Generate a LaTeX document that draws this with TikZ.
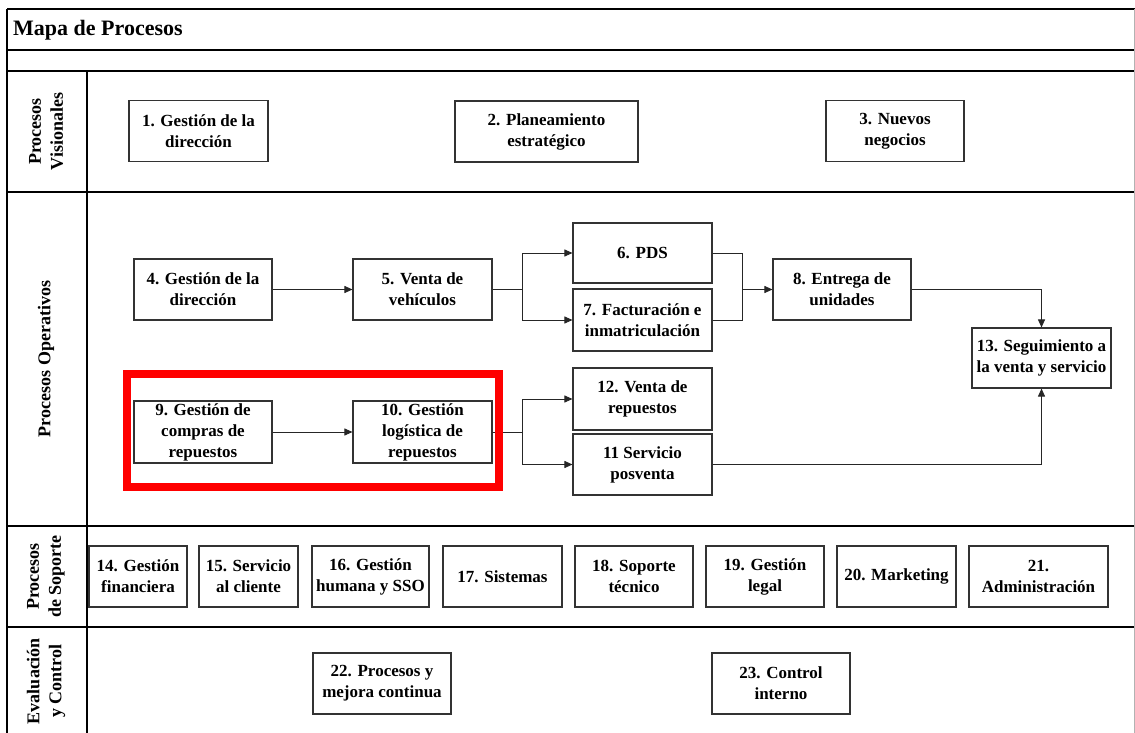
\documentclass[tikz,border=0pt]{standalone}
\usepackage{fontspec}
\setmainfont{Liberation Serif}[BoldFont={Liberation Serif Bold}]
\usetikzlibrary{arrows.meta}
\begin{document}
\begin{tikzpicture}[x=1pt,y=-1pt,
  proc/.style={draw=black!80, line width=1.1pt, fill=white, align=center,
    font=\fontsize{17}{21}\selectfont\bfseries, inner sep=1pt,
    minimum width=139pt, minimum height=61pt},
  lane/.style={line width=1.4pt, draw=black},
  flow/.style={line width=0.9pt, draw=black!85, -{Triangle[length=8pt,width=7pt]}},
  link/.style={line width=0.9pt, draw=black!85},
  lanelabel/.style={rotate=90, align=center, font=\fontsize{18}{22}\selectfont\bfseries},
  highlight/.style={draw=red, line width=8pt}]
\useasboundingbox (0,0) rectangle (1135,733);
\fill[white] (0,0) rectangle (1135,733);

% frame and lanes
\draw[lane] (7,9) -- (1135,9);
\draw[lane] (7,9) -- (7,733);
\foreach \yy in {50,71,192,526,627} \draw[lane] (7,\yy) -- (1134,\yy);
\draw[lane] (87,71) -- (87,733);
\draw[black!30, line width=0.8pt] (1134,9) -- (1134,733);

% title
\node[anchor=base west, font=\fontsize{22}{26}\selectfont\bfseries, inner sep=0pt] (title) at (13,36) {Mapa de Procesos};

% lane labels
\node[lanelabel] (lv) at (46,131.5) {Procesos\\Visionales};
\node[lanelabel] (lo) at (46,359) {Procesos Operativos};
\node[lanelabel] (ls) at (46,576.5) {Procesos\\de Soporte};
\node[lanelabel] (le) at (46,681) {Evaluación\\y Control};

% visional processes
\node[proc] (p1) at (198.5,131) {1. Gestión de la\\dirección};
\node[proc, minimum width=183pt] (p2) at (546.5,131.5) {2. Planeamiento\\estratégico};
\node[proc, minimum width=138pt] (p3) at (895,131) {3. Nuevos\\negocios};

% operational processes
\node[proc, minimum width=138pt] (p4) at (203,289.5) {4. Gestión de la\\dirección};
\node[proc] (p5) at (422.5,289.5) {5. Venta de\\vehículos};
\node[proc, minimum height=60pt] (p6) at (642.5,253) {6. PDS};
\node[proc, minimum height=62pt] (p7) at (642.5,320) {7. Facturación e\\inmatriculación};
\node[proc, minimum width=138pt] (p8) at (842,289.5) {8. Entrega de\\unidades};
\node[proc, minimum height=60pt] (p13) at (1041.5,358) {13. Seguimiento a\\la venta y servicio};
\node[proc, minimum width=138pt, minimum height=62pt] (p9) at (203,432) {9. Gestión de\\compras de\\repuestos};
\node[proc, minimum height=62pt] (p10) at (422.5,432) {10. Gestión\\logística de\\repuestos};
\node[proc, minimum height=62pt] (p12) at (642.5,399) {12. Venta de\\repuestos};
\node[proc] (p11) at (642.5,464.5) {11 Servicio\\posventa};

% support processes
\node[proc, minimum width=98pt] (p14) at (138,576.5) {14. Gestión\\financiera};
\node[proc, minimum width=99pt] (p15) at (248.5,576.5) {15. Servicio\\al cliente};
\node[proc, minimum width=117pt] (p16) at (370.5,576.5) {16. Gestión\\humana y SSO};
\node[proc, minimum width=119pt] (p17) at (502.5,576.5) {17. Sistemas};
\node[proc, minimum width=118pt] (p18) at (634,576.5) {18. Soporte\\técnico};
\node[proc, minimum width=118pt] (p19) at (765,576.5) {19. Gestión\\legal};
\node[proc, minimum width=119pt] (p20) at (896.5,576.5) {20. Marketing};
\node[proc] (p21) at (1038.5,576.5) {21.\\Administración};

% evaluation and control
\node[proc, minimum width=138pt] (p22) at (382,683.5) {22. Procesos y\\mejora continua};
\node[proc, minimum width=138pt] (p23) at (781,683.5) {23. Control\\interno};

% vehicle flow
\draw[flow] (p4.east) -- (p5.west);
\coordinate (f1) at (522,289.5);
\draw[link] (p5.east) -- (f1);
\draw[flow] (f1) |- (p6.west);
\draw[flow] (f1) |- (p7.west);
\coordinate (j1) at (742,289.5);
\draw[link] (p6.east) -| (j1);
\draw[link] (p7.east) -| (j1);
\draw[flow] (j1) -- (p8.west);
\draw[flow] (p8.east) -| (p13.north);

% spare parts flow
\draw[flow] (p9.east) -- (p10.west);
\coordinate (f2) at (522,432);
\draw[link] (p10.east) -- (f2);
\draw[flow] (f2) |- (p12.west);
\draw[flow] (f2) |- (p11.west);
\draw[flow] (p11.east) -| (p13.south);

% highlighted group
\draw[highlight] (127,374) rectangle (499,487);
\end{tikzpicture}
\end{document}
